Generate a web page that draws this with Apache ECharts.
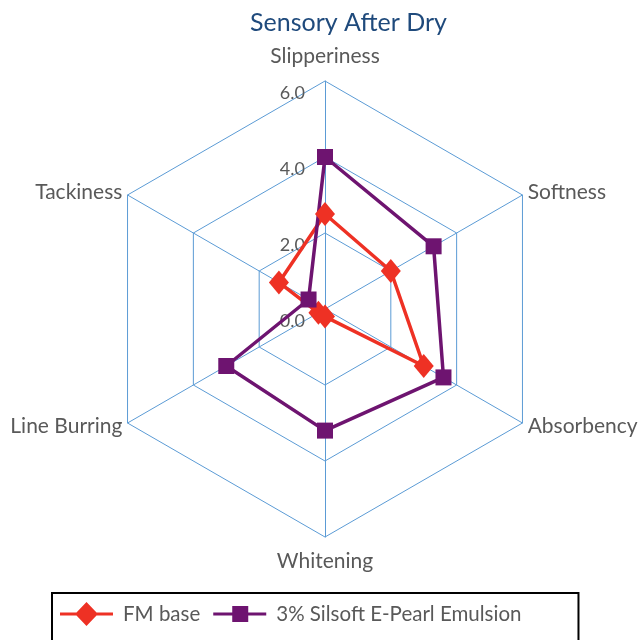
<!DOCTYPE html>
<html>
<head>
<meta charset="utf-8">
<script src="https://cdn.jsdelivr.net/npm/echarts@6/dist/echarts.min.js"></script>
<style>
  html, body { margin: 0; padding: 0; background: #fff; }
  #chart { width: 639px; height: 640px; }
</style>
</head>
<body>
<div id="chart"></div>
<script>
// indicators listed counter-clockwise from the top (echarts radar order)
const attributes = ['Slipperiness', 'Tackiness', 'Line Burring', 'Whitening', 'Absorbency', 'Softness']
const fmBase = [2.5, 1.4, 0.2, 0.2, 3.0, 2.0]
const ePearl = [4.0, 0.5, 3.0, 3.2, 3.6, 3.3]
const seriesNames = ['FM base', '3% Silsoft E-Pearl Emulsion']
const axisMax = 6

const font = 'Lato'
const gridBlue = '#5B9BD5'
const red = '#EE3124'
const purple = '#6E1470'

// legend icons: line with marker, plus a blank point on the right as spacing
const diamondIcon = 'path://M0,10.5 L16.5,10.5 L26.5,0 L36.5,10.5 L53,10.5 L53,13.5 L36.5,13.5 L26.5,24 L16.5,13.5 L0,13.5 Z M58,0 L58.01,0 L58,0.01 Z'
const squareIcon = 'path://M0,10.5 L19,10.5 L19,4 L35,4 L35,10.5 L53,10.5 L53,13.5 L35,13.5 L35,20 L19,20 L19,13.5 L0,13.5 Z M58,0 L58.01,0 L58,0.01 Z M0,24 L0.01,24 L0,23.99 Z'

// top/bottom names sit a bit further from the vertex than the side ones
const gaps = [14, 6, 6, 14, 6, 6]
const indicator = attributes.map((name, i) => {
  let item = { name: name, min: 0, max: axisMax, nameGap: gaps[i] }
  if (i === 0) {
    item.axisLabel = {
      show: true,
      formatter: (v) => v.toFixed(1),
      color: '#595959',
      fontFamily: font,
      fontSize: 18,
      margin: 20,
      verticalAlign: 'top',
      lineHeight: 24
    }
  }
  return item
})

const chart = echarts.init(document.getElementById('chart'))
const option = {
  animation: false,
  title: {
    text: 'Sensory After Dry',
    left: 245,
    top: 5,
    textStyle: { color: '#1F4A7C', fontFamily: font, fontSize: 25, fontWeight: 'normal' }
  },
  legend: {
    data: [
      { name: seriesNames[0], icon: diamondIcon },
      { name: seriesNames[1], icon: squareIcon }
    ],
    left: 52,
    top: 593,
    padding: [9, 57, 40, 8],
    itemWidth: 58,
    itemHeight: 24,
    itemGap: 13,
    borderColor: '#000',
    borderWidth: 2,
    textStyle: { color: '#595959', fontFamily: font, fontSize: 20.5 }
  },
  radar: {
    center: [325, 309],
    radius: 228,
    startAngle: 90,
    splitNumber: 3,
    shape: 'polygon',
    indicator: indicator,
    axisName: { color: '#595959', fontFamily: font, fontSize: 21 },
    axisLine: { lineStyle: { color: gridBlue, width: 1 } },
    splitLine: { lineStyle: { color: gridBlue, width: 1 } },
    splitArea: { show: false },
    axisLabel: { show: false }
  },
  series: [{
    type: 'radar',
    data: [
      {
        name: seriesNames[0],
        value: fmBase,
        symbol: 'diamond',
        symbolSize: [20, 24],
        itemStyle: { color: red },
        lineStyle: { color: red, width: 3.5 }
      },
      {
        name: seriesNames[1],
        value: ePearl,
        symbol: 'rect',
        symbolSize: 16,
        itemStyle: { color: purple },
        lineStyle: { color: purple, width: 3.5 }
      }
    ]
  }]
}
chart.setOption(option)
</script>
</body>
</html>
